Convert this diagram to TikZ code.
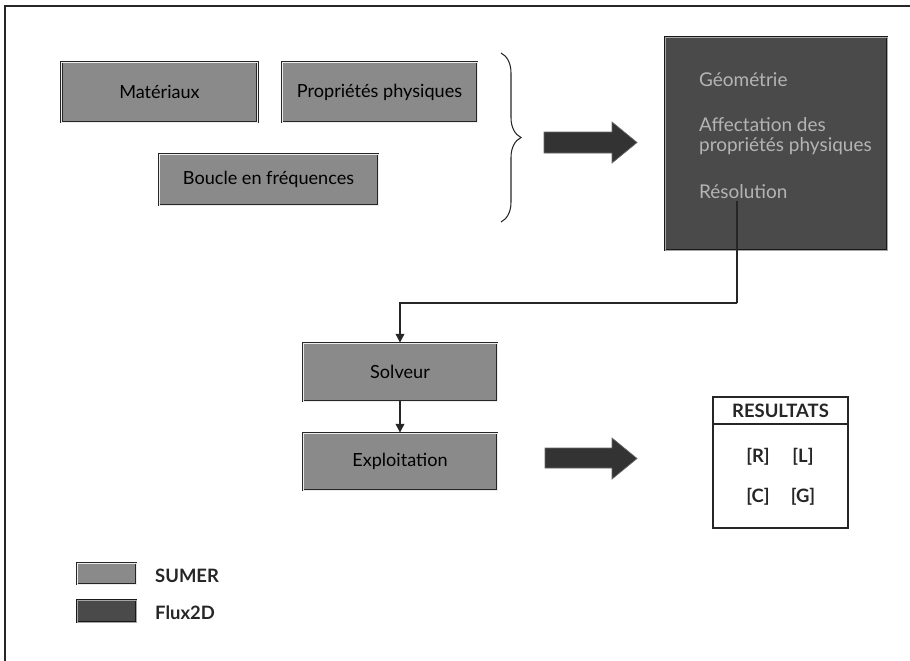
\documentclass[tikz,border=0pt]{standalone}
\usepackage{fontspec}
\setmainfont{Lato}
\usetikzlibrary{arrows.meta,decorations.pathreplacing}
\definecolor{sumer}{HTML}{8A8A8A}
\definecolor{fluxc}{HTML}{4A4A4A}
\definecolor{fluxtxt}{HTML}{B4B4B4}
\definecolor{blockarrow}{HTML}{333333}
\tikzset{
  sumerbox/.style={draw=black!85, line width=0.5pt, fill=sumer, double=white!85!gray, double distance=0.5pt,
    inner sep=0pt, font=\fontsize{10.3}{12}\selectfont, text=black},
  fluxbox/.style={draw=black!90, line width=0.5pt, fill=fluxc, double=gray!70, double distance=0.4pt, inner sep=0pt},
  fluxtext/.style={text=fluxtxt, font=\fontsize{10.8}{12.5}\selectfont, anchor=west, inner sep=1pt, align=left},
  conn/.style={draw=black!85, line width=0.6pt, -{Triangle[length=5pt,width=5pt]}},
  bigarrow/.style={fill=blockarrow, draw=black!60, line width=0.4pt},
  restext/.style={font=\bfseries\fontsize{10.5}{12}\selectfont, text=black!85},
}
\begin{document}
\begin{tikzpicture}[x=0.02cm,y=-0.02cm]
\useasboundingbox (0,0) rectangle (910,660);
\clip (0,0) rectangle (910,660);
% outer frame
\draw[line width=0.9pt, black!85] (5,1000) -- (5,6) -- (1000,6);
% SUMER boxes
\node[sumerbox, minimum width=3.92cm, minimum height=1.2cm] (mat) at (159.5,92) {Matériaux};
\node[sumerbox, minimum width=3.9cm, minimum height=1.2cm] (prop) at (379.5,92) {Propriétés physiques};
\node[sumerbox, minimum width=4.38cm, minimum height=1.02cm] (boucle) at (268.5,179.5) {Boucle en fréquences};
% brace
\draw[black!85, line width=0.6pt, decorate, decoration={brace, amplitude=0.4cm}] (501,53) -- (501,222);
% big arrow 1
\draw[bigarrow] (544,132) -- (612,132) -- (612,122) -- (637,142.5) -- (612,163) -- (612,153) -- (544,153) -- cycle;
% Flux2D box
\node[fluxbox, minimum width=4.44cm, minimum height=4.26cm] (flux) at (776,143.5) {};
\node[fluxtext] (geo) at (697,80) {Géométrie};
\node[fluxtext] (aff) at (697,136) {Affectation des\\[-1pt]propriétés physiques};
\node[fluxtext] (res) at (697,192) {Résolution};
% Solveur / Exploitation
\node[sumerbox, minimum width=3.88cm, minimum height=1.16cm] (solv) at (400,372) {Solveur};
\node[sumerbox, minimum width=3.88cm, minimum height=1.14cm] (expl) at (400,461.5) {Exploitation};
\coordinate (turn) at (737,303);
\draw[conn] ([xshift=0.8cm]res.south west) |- (turn) -| (solv.north);
\draw[conn] (solv.south) -- (expl.north);
% big arrow 2
\draw[bigarrow] (545,448) -- (612,448) -- (612,438) -- (637,458.5) -- (612,479) -- (612,468) -- (545,468) -- cycle;
% RESULTATS
\draw[black!85, line width=0.8pt] (713,397) rectangle (848,528);
\draw[black!85, line width=0.8pt] (713,424) -- (848,424);
\node[restext] (rt) at (780.5,410.5) {RESULTATS};
\node[restext] (r) at (758,457) {[R]};
\node[restext] (l) at (803,457) {[L]};
\node[restext] (c) at (758,497) {[C]};
\node[restext] (g) at (803,497) {[G]};
% legend
\node[sumerbox, minimum width=1.18cm, minimum height=0.42cm] (lsumer) at (106.5,573.5) {};
\node[fluxbox, minimum width=1.18cm, minimum height=0.44cm] (lflux) at (106.5,611) {};
\node[restext, anchor=west] (tsumer) at (149,576) {SUMER};
\node[restext, anchor=west] (tflux) at (149,613) {Flux2D};
\end{tikzpicture}
\end{document}
